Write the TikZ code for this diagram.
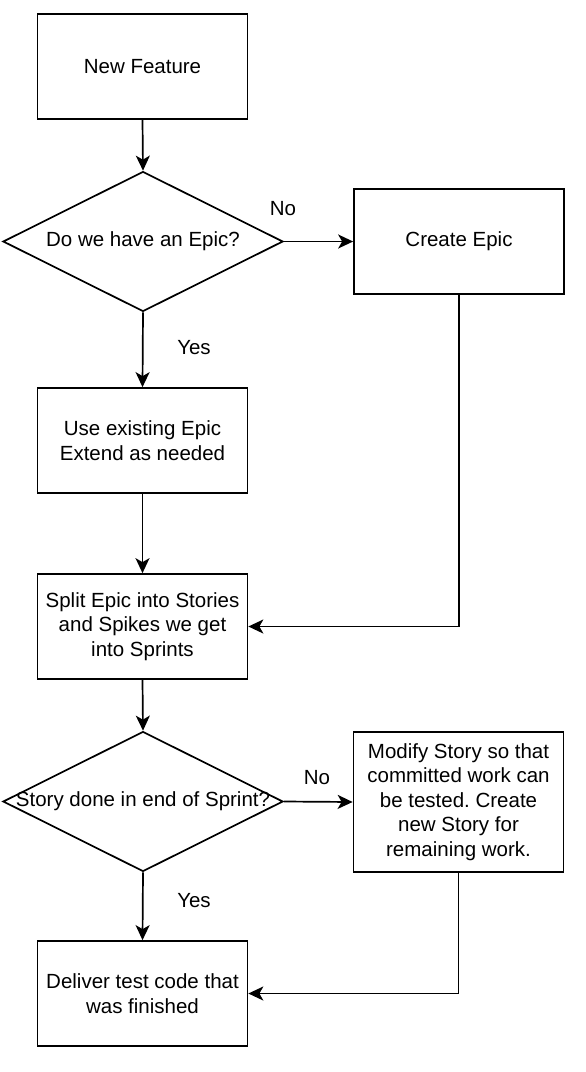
\documentclass[tikz,border=0pt]{standalone}
\usepackage{fontspec}
\setmainfont{Liberation Sans}
\frenchspacing
\usetikzlibrary{arrows.meta,shapes.geometric}
\begin{document}
\begin{tikzpicture}[x=1pt,y=-1pt,
  every node/.style={font=\fontsize{20.5}{24.6}\selectfont, text=black},
  box/.style={draw=black, line width=1.7pt, fill=white, minimum width=210pt, minimum height=105pt, align=center, inner sep=0pt},
  dec/.style={draw=black, line width=1.7pt, fill=white, diamond, aspect=2, minimum width=280pt, minimum height=140pt, inner sep=0pt},
  conn/.style={draw=black, line width=1.7pt, -{Stealth[length=15pt,width=14pt,inset=4pt]}},
  lbl/.style={inner sep=0pt}]
\useasboundingbox (0,0) rectangle (586,1072);
\node[box] (nf) at (142.5,66.5) {New Feature};
\node[dec] (d1) at (143,241.5) {};
\node[lbl] (d1t) at (d1.center) {Do we have an Epic?};
\node[box] (ce) at (459,241.5) {Create Epic};
\node[box] (ue) at (142.5,440.5) {Use existing Epic\\Extend as needed};
\node[box] (sp) at (142.5,626.5) {Split Epic into Stories\\and Spikes we get\\into Sprints};
\node[dec] (d2) at (143,801.5) {};
\node[lbl] (d2t) at (d2.center) {Story done in end of Sprint?};
\node[box, minimum height=140pt] (ms) at (458.5,802) {Modify Story so that\\committed work can\\be tested. Create\\new Story for\\remaining work.};
\node[box] (dl) at (142.5,993.5) {Deliver test code that\\was finished};
\draw[conn] (nf.south) -- (d1.north);
\draw[conn] (d1.east) -- (ce.west);
\draw[conn] (d1.south) -- (ue.north);
\draw[conn] (ue.south) -- (sp.north);
\draw[conn] (ce.south) |- (sp.east);
\draw[conn] (sp.south) -- (d2.north);
\draw[conn] (d2.east) -- (ms.west);
\draw[conn] (d2.south) -- (dl.north);
\draw[conn] (ms.south) |- (dl.east);
\node[lbl] (no1) at (283,209) {No};
\node[lbl] (yes1) at (194,348) {Yes};
\node[lbl] (no2) at (317,778) {No};
\node[lbl] (yes2) at (194,901) {Yes};
\end{tikzpicture}
\end{document}
